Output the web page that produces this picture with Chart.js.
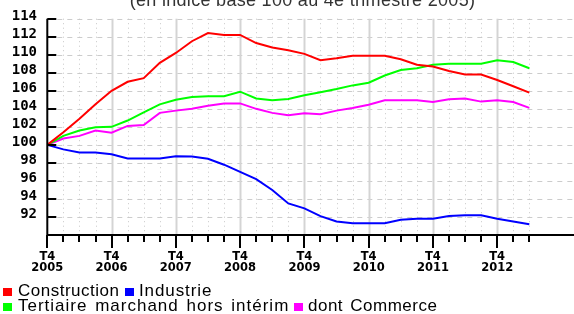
<!DOCTYPE html>
<html lang="fr">
<head>
<meta charset="utf-8">
<script src="https://cdn.jsdelivr.net/npm/chart.js@4/dist/chart.umd.min.js"></script>
<style>
  body { margin: 0; background: #fff; }
  #cadre { position: relative; width: 574px; height: 314px; overflow: hidden; font-family: "Liberation Sans", Arial, sans-serif; }
  #graphique { position: absolute; left: 0; top: 0; }
  #titre { position: absolute; top: -9px; left: 0; width: 605px; text-align: center; font-size: 18px; line-height: 18px; color: #333; letter-spacing: 0.3px; white-space: nowrap; }
  .leg { position: absolute; font-size: 17px; line-height: 17px; word-spacing: 2px; color: #000; white-space: nowrap; }
  .carre { position: absolute; width: 9px; height: 8px; }
</style>
</head>
<body>
<div id="cadre">
  <canvas id="graphique" width="574" height="314"></canvas>
  <div id="titre">(en indice base 100 au 4e trimestre 2005)</div>
  <div id="legende"></div>
</div>
<script>
// trimestres, du T4 2005 au T2 2013
const trimestres = [
  "T4 2005",
  "T1 2006", "T2 2006", "T3 2006", "T4 2006",
  "T1 2007", "T2 2007", "T3 2007", "T4 2007",
  "T1 2008", "T2 2008", "T3 2008", "T4 2008",
  "T1 2009", "T2 2009", "T3 2009", "T4 2009",
  "T1 2010", "T2 2010", "T3 2010", "T4 2010",
  "T1 2011", "T2 2011", "T3 2011", "T4 2011",
  "T1 2012", "T2 2012", "T3 2012", "T4 2012",
  "T1 2013", "T2 2013"
];

const construction = [100, 101.4, 102.9, 104.5, 106.0, 107.0, 107.4, 109.1, 110.2, 111.5, 112.4, 112.2, 112.2, 111.3, 110.8, 110.5, 110.1, 109.4, 109.6, 109.9, 109.9, 109.9, 109.5, 108.9, 108.7, 108.2, 107.8, 107.8, 107.2, 106.5, 105.8];
const industrie = [100, 99.5, 99.15, 99.15, 98.95, 98.5, 98.5, 98.5, 98.75, 98.7, 98.45, 97.8, 97.0, 96.2, 95.0, 93.5, 92.95, 92.1, 91.5, 91.3, 91.3, 91.3, 91.7, 91.8, 91.8, 92.1, 92.2, 92.2, 91.8, 91.5, 91.2];
const tertiaire = [100, 101.0, 101.6, 101.95, 102.0, 102.7, 103.6, 104.5, 105.0, 105.3, 105.4, 105.4, 105.9, 105.15, 104.95, 105.1, 105.5, 105.85, 106.2, 106.6, 106.9, 107.7, 108.3, 108.5, 108.9, 109.0, 109.0, 109.0, 109.4, 109.2, 108.5];
const commerce = [100, 100.7, 101.0, 101.6, 101.35, 102.1, 102.2, 103.55, 103.8, 104.0, 104.35, 104.6, 104.6, 104.0, 103.55, 103.3, 103.5, 103.4, 103.8, 104.1, 104.45, 104.95, 104.95, 104.95, 104.75, 105.05, 105.15, 104.8, 104.95, 104.75, 104.1];

const noms = ["Construction", "Industrie", "Tertiaire marchand hors intérim", "dont Commerce"];
const couleurs = ["#ff0000", "#0000ff", "#00ff00", "#ff00ff"];
const valeurs = [construction, industrie, tertiaire, commerce];

const graduationsY = [90, 92, 94, 96, 98, 100, 102, 104, 106, 108, 110, 112, 114];

// légende en deux lignes, comme sur l'original
const placesLegende = [[3, 18, 282, 0.5], [125, 139, 282, 0.9], [3, 18, 297, 1.0], [294, 308, 297, 0.5]];
const legende = document.getElementById("legende");
noms.forEach((nom, k) => {
  const [xc, xt, yt, esp] = placesLegende[k];
  const carre = document.createElement("div");
  carre.className = "carre";
  carre.style.left = xc + "px";
  carre.style.top = (yt + 6) + "px";
  carre.style.background = couleurs[k];
  legende.appendChild(carre);
  const txt = document.createElement("div");
  txt.className = "leg";
  txt.style.left = xt + "px";
  txt.style.top = yt + "px";
  txt.style.letterSpacing = esp + "px";
  txt.textContent = nom;
  legende.appendChild(txt);
});

// grille pointillée
const grille = {
  id: "grille",
  beforeDatasetsDraw(chart) {
    const { ctx, chartArea: a, scales: { x, y } } = chart;
    ctx.save();
    ctx.lineWidth = 1;
    ctx.strokeStyle = "#cccccc";
    ctx.setLineDash([5, 5]);
    graduationsY.forEach((v) => {
      if (v === 90) return;
      const py = Math.round(y.getPixelForValue(v)) + 0.5;
      ctx.beginPath();
      ctx.moveTo(a.left + 10, py);
      ctx.lineTo(a.right, py);
      ctx.stroke();
    });
    trimestres.forEach((t, i) => {
      if (i === 0) return;
      const px = Math.round(x.getPixelForValue(i)) + 0.5;
      ctx.beginPath();
      if (i % 4 === 0) {
        ctx.setLineDash([]);
        ctx.strokeStyle = "#d4d4d4";
        ctx.lineWidth = 2;
      } else {
        ctx.setLineDash([1, 3.5]);
        ctx.strokeStyle = "#c8c8c8";
        ctx.lineWidth = 1;
      }
      ctx.moveTo(px, a.top);
      ctx.lineTo(px, a.bottom);
      ctx.stroke();
    });
    ctx.restore();
  }
};

// axes noirs et graduations
const axes = {
  id: "axes",
  afterDatasetsDraw(chart) {
    const { ctx, chartArea: a, scales: { x, y } } = chart;
    ctx.save();
    ctx.strokeStyle = "#000";
    ctx.lineWidth = 2;
    ctx.beginPath();
    ctx.moveTo(a.left, a.top);
    ctx.lineTo(a.left, a.bottom + 1);
    ctx.moveTo(a.left - 1, a.bottom);
    ctx.lineTo(a.right, a.bottom);
    graduationsY.forEach((v) => {
      const py = Math.round(y.getPixelForValue(v));
      ctx.moveTo(a.left, py);
      ctx.lineTo(a.left + 9, py);
    });
    trimestres.forEach((t, i) => {
      const px = Math.round(x.getPixelForValue(i));
      ctx.moveTo(px, a.bottom);
      ctx.lineTo(px, a.bottom + (i % 4 === 0 ? 13 : 7));
    });
    ctx.stroke();
    ctx.restore();
  }
};

new Chart(document.getElementById("graphique"), {
  type: "line",
  data: {
    datasets: valeurs.map((serie, k) => ({
      label: noms[k],
      data: serie.map((v, i) => ({ x: i, y: v })),
      borderColor: couleurs[k],
      backgroundColor: couleurs[k],
      borderWidth: 2,
      pointRadius: 0,
      tension: 0,
      fill: false,
    })),
  },
  options: {
    responsive: false,
    animation: false,
    layout: { padding: { top: 17.5, left: 0, right: 0, bottom: 0 } },
    plugins: {
      legend: { display: false },
      title: { display: false },
      tooltip: { enabled: false },
    },
    scales: {
      x: {
        type: "linear",
        min: 0,
        max: 32.78,
        afterBuildTicks: (s) => { s.ticks = trimestres.map((t, i) => ({ value: i })); },
        afterFit: (s) => { s.height = 79; },
        grid: { display: false, drawTicks: false },
        border: { display: false },
        ticks: {
          autoSkip: false,
          maxRotation: 0,
          padding: 16.5,
          color: "#000",
          font: { family: "DejaVu Sans", size: 11.5, weight: "bold", lineHeight: 0.96 },
          callback: (v) => (v % 4 === 0 ? trimestres[v].split(" ") : ""),
        },
      },
      y: {
        min: 90,
        max: 114,
        afterBuildTicks: (s) => { s.ticks = graduationsY.map((v) => ({ value: v })); },
        afterFit: (s) => { s.width = 47.3; },
        grid: { display: false, drawTicks: false },
        border: { display: false },
        ticks: {
          autoSkip: false,
          padding: 10.3,
          labelOffset: -2.5,
          color: "#000",
          font: { family: "DejaVu Sans Mono", size: 14, weight: "bold" },
          callback: (v) => (v === 90 ? "" : v),
        },
      },
    },
  },
  plugins: [grille, axes],
});
</script>
</body>
</html>
